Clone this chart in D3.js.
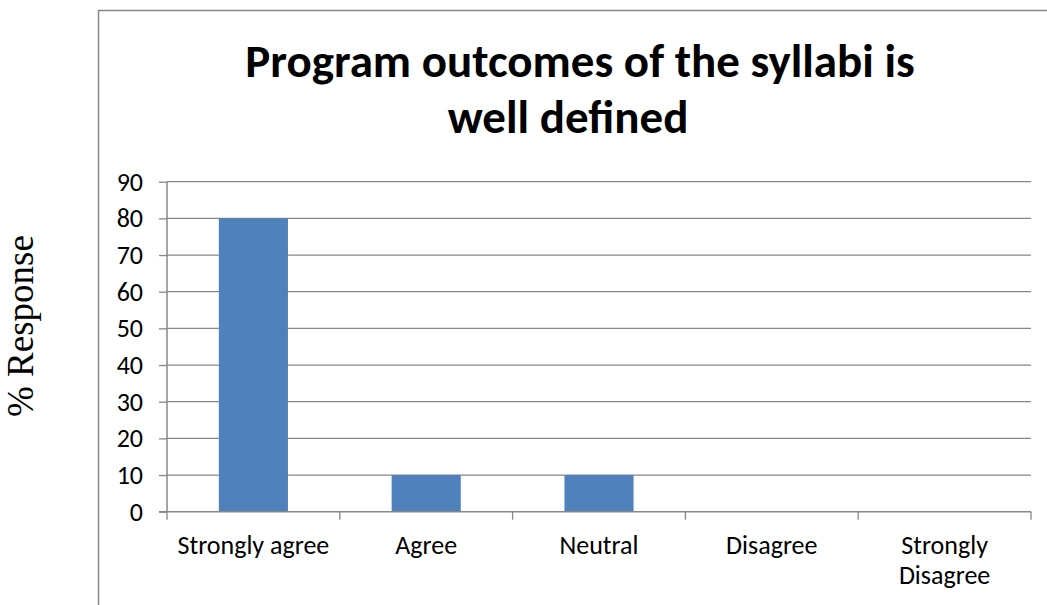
<!DOCTYPE html>
<html>
<head>
<meta charset="utf-8">
<script src="https://cdn.jsdelivr.net/npm/d3@7"></script>
<style>
  html, body { margin: 0; padding: 0; background: #fff; }
  svg { display: block; }
</style>
</head>
<body>
<svg id="chart" width="1047" height="605"></svg>
<script>
// Survey responses (% of respondents)
const categories = ["Strongly agree", "Agree", "Neutral", "Disagree", "Strongly Disagree"];
const responses = [80, 10, 10, 0, 0];
const yTicks = [0, 10, 20, 30, 40, 50, 60, 70, 80, 90];
const titleLines = ["Program outcomes of the syllabi is", "well defined"];
const yLabel = "% Response";

const svg = d3.select("#chart");
const sans = "Carlito, Calibri, 'Open Sans', sans-serif";
const grey = "#878787";

// plot area
const plot = { left: 167, right: 1031, top: 181.7, bottom: 511.7 };

const x = d3.scaleBand()
  .domain(categories)
  .range([plot.left, plot.right])
  .padding(0);

const y = d3.scaleLinear()
  .domain([0, 90])
  .range([plot.bottom, plot.top]);

// chart frame (extends past the visible page on right and bottom)
svg.append("rect")
  .attr("x", 98.5).attr("y", 10.5)
  .attr("width", 1100).attr("height", 700)
  .attr("fill", "none")
  .attr("stroke", grey)
  .attr("stroke-width", 1.5);

// horizontal gridlines
svg.append("g")
  .selectAll("line")
  .data(yTicks.filter(d => d > 0))
  .join("line")
  .attr("x1", plot.left).attr("x2", plot.right)
  .attr("y1", d => y(d)).attr("y2", d => y(d))
  .attr("stroke", grey)
  .attr("stroke-width", 1.3);

// bars: 40% of each category slot, centred
const barFrac = 0.4;
svg.append("g")
  .selectAll("rect")
  .data(categories.map((c, i) => ({ c, v: responses[i] })))
  .join("rect")
  .attr("x", d => x(d.c) + x.bandwidth() * (1 - barFrac) / 2)
  .attr("width", x.bandwidth() * barFrac)
  .attr("y", d => y(d.v))
  .attr("height", d => y(0) - y(d.v))
  .attr("fill", "#4F81BD");

// y axis
const yAxis = d3.axisLeft(y)
  .tickValues(yTicks)
  .tickSize(8)
  .tickPadding(16)
  .tickFormat(d3.format("d"));

const gy = svg.append("g")
  .attr("transform", `translate(${plot.left},0)`)
  .call(yAxis);
gy.select(".domain").attr("stroke", grey).attr("stroke-width", 1.5)
  .attr("d", `M0,${plot.top}V${plot.bottom}`);
gy.selectAll(".tick line").attr("stroke", grey).attr("stroke-width", 1.3);
gy.selectAll(".tick text")
  .attr("font-family", sans)
  .attr("font-size", 26)
  .attr("fill", "#000");

// x axis: ticks on the category boundaries
const gx = svg.append("g")
  .attr("transform", `translate(0,${plot.bottom})`);
gx.append("line")
  .attr("x1", plot.left - 8).attr("x2", plot.right)
  .attr("stroke", grey).attr("stroke-width", 1.5);
const bounds = categories.map(c => x(c)).concat([x(categories[categories.length - 1]) + x.bandwidth()]);
gx.selectAll("line.tick")
  .data(bounds)
  .join("line")
  .attr("class", "tick")
  .attr("x1", d => d).attr("x2", d => d)
  .attr("y1", 0).attr("y2", 8)
  .attr("stroke", grey).attr("stroke-width", 1.3);

// category labels, wrapped where the slot is too narrow
const wrapped = { "Strongly Disagree": ["Strongly", "Disagree"] };
const lab = gx.selectAll("text.cat")
  .data(categories)
  .join("text")
  .attr("class", "cat")
  .attr("x", d => x(d) + x.bandwidth() / 2)
  .attr("y", 42)
  .attr("text-anchor", "middle")
  .attr("font-family", sans)
  .attr("font-size", 26)
  .attr("fill", "#000");
lab.each(function(d) {
  const lines = wrapped[d] || [d];
  d3.select(this).selectAll("tspan")
    .data(lines)
    .join("tspan")
    .attr("x", x(d) + x.bandwidth() / 2)
    .attr("dy", (l, i) => i === 0 ? 0 : 30)
    .text(l => l);
});

// title
svg.append("g")
  .selectAll("text")
  .data(titleLines)
  .join("text")
  .attr("x", (d, i) => i === 0 ? 580 : 568)
  .attr("y", (d, i) => 77 + i * 56)
  .attr("text-anchor", "middle")
  .attr("font-family", sans)
  .attr("font-weight", "bold")
  .attr("font-size", 47)
  .attr("fill", "#000")
  .text(d => d);

// y axis title, outside the chart frame
svg.append("text")
  .attr("transform", "translate(33,326) rotate(-90)")
  .attr("text-anchor", "middle")
  .attr("font-family", "'Liberation Serif', 'Times New Roman', serif")
  .attr("font-size", 37)
  .attr("fill", "#000")
  .text(yLabel);
</script>
</body>
</html>
